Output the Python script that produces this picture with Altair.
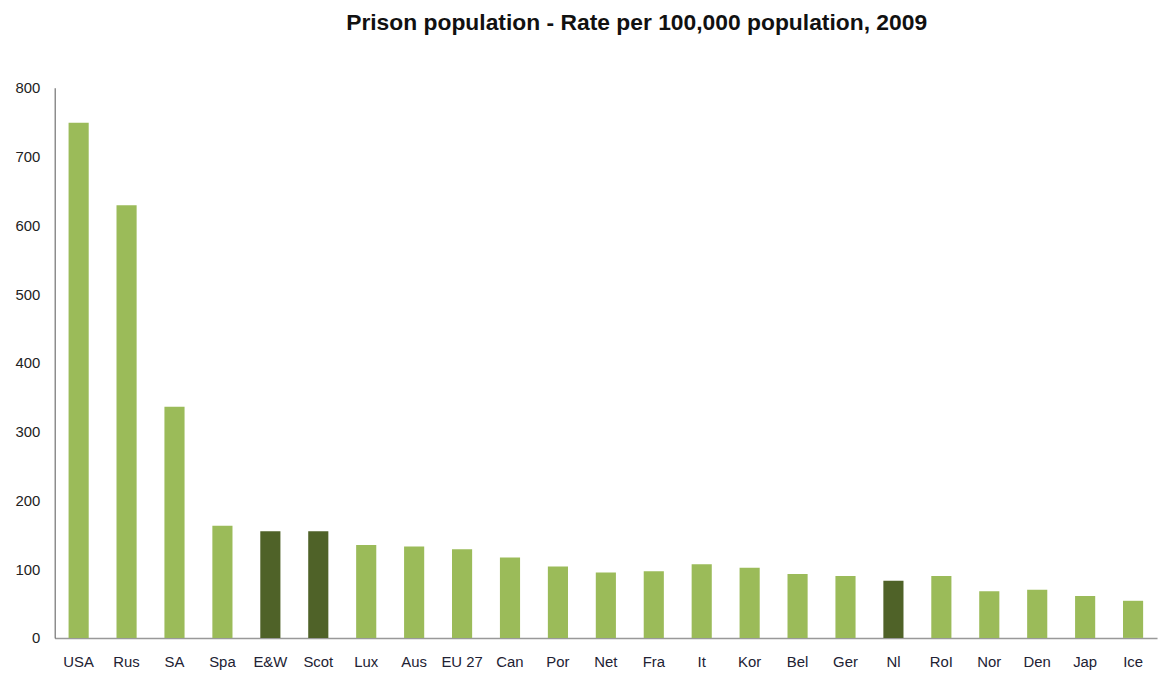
import altair as alt
import pandas as pd

countries = ["USA", "Rus", "SA", "Spa", "E&W", "Scot", "Lux", "Aus", "EU 27", "Can",
             "Por", "Net", "Fra", "It", "Kor", "Bel", "Ger", "Nl", "RoI", "Nor",
             "Den", "Jap", "Ice"]
rates = [749, 629, 336, 163, 155, 155, 135, 133, 129, 117,
         104, 95, 97, 107, 102, 93, 90, 83, 90, 68,
         70, 61, 54]
groups = ["other", "other", "other", "other", "uk", "uk", "other", "other", "other", "other",
          "other", "other", "other", "other", "other", "other", "other", "uk", "other", "other",
          "other", "other", "other"]

df = pd.DataFrame({"country": countries, "rate": rates, "group": groups})

chart = alt.Chart(df).mark_bar().encode(
    x=alt.X("country:N", sort=countries, title=None,
            scale=alt.Scale(paddingInner=0.58, paddingOuter=0.29),
            axis=alt.Axis(labelAngle=0, ticks=False, domainColor="#999999",
                          domainWidth=1.5, labelPadding=17, labelFontSize=15,
                          labelFont="Liberation Sans", labelColor="#222233")),
    y=alt.Y("rate:Q", title=None,
            scale=alt.Scale(domain=[0, 800], nice=False),
            axis=alt.Axis(values=list(range(0, 801, 100)), ticks=False, grid=False,
                          domainColor="#555555", labelPadding=15, labelFontSize=15,
                          labelFont="Liberation Sans", labelColor="#222222")),
    color=alt.Color("group:N", legend=None,
                    scale=alt.Scale(domain=["other", "uk"], range=["#9BBB59", "#4F6228"]))
).properties(
    width=1110, height=554,
    title=alt.TitleParams("Prison population - Rate per 100,000 population, 2009",
                          font="Liberation Sans", fontSize=23, fontWeight="bold",
                          color="#111111", anchor="middle", dx=31, offset=46),
    autosize=alt.AutoSizeParams(type="none"),
    padding={"left": 47, "top": 78, "right": 5, "bottom": 30}
).configure_view(stroke=None)

chart.save("out.html", embed_options={"renderer": "svg", "actions": False})
